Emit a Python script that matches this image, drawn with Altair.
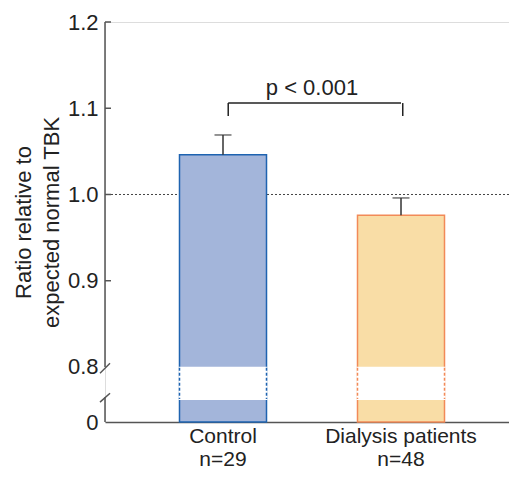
import altair as alt
import pandas as pd

# ---- data ----
groups = ["Control", "Dialysis patients"]
n_text = ["n=29", "n=48"]
means = [1.046, 0.976]
upper = [1.069, 0.996]
fills = ["#a3b5da", "#f9dda6"]
strokes = ["#1e63b0", "#f28a58"]

y_tick_values = [0.9, 1.0, 1.1, 1.2]
ref_value = 1.0
p_text = "p < 0.001"

# broken-axis geometry (in axis units; real 0 drawn at Y_ZERO)
Y_ZERO = 0.7362
Y_MAX = 1.2
BREAK_TOP = 0.799
BREAK_BOTTOM = 0.763
AXIS_LOWER_TOP = 0.765
bracket_y = 1.106
bracket_leg = 1.091
p_y = 1.123

# layout
W, H = 404, 400
PAD_INNER, PAD_OUTER, ALIGN = 0.5112, 0.3904, 0.536
STEP = W / (len(groups) - PAD_INNER + 2 * PAD_OUTER)

FONT = "Liberation Sans"
FS = 22
TXT = "#222222"
AX = "#555555"

df = pd.DataFrame({"group": groups, "n": n_text, "mean": means, "upper": upper})

xscale = alt.Scale(domain=groups, paddingInner=PAD_INNER, paddingOuter=PAD_OUTER, align=ALIGN)
yscale = alt.Scale(domain=[Y_ZERO, Y_MAX], nice=False, zero=False)
fill_scale = alt.Scale(domain=groups, range=fills)
stroke_scale = alt.Scale(domain=groups, range=strokes)

label_map = " : ".join(
    f"datum.value == '{g}' ? ['{g}', '{n}']" for g, n in zip(groups, n_text)
) + " : datum.label"

xaxis = alt.Axis(
    labelAngle=0, domain=True, domainColor=AX, domainWidth=1.5, ticks=False,
    labelExpr=label_map, labelFontSize=21, labelLineHeight=23, labelPadding=3,
    labelColor=TXT, labelFont=FONT, grid=False,
)
yaxis = alt.Axis(
    values=[Y_ZERO, 0.8] + y_tick_values,
    labelExpr="datum.value < 0.75 ? '0' : format(datum.value, '.1f')",
    domain=False, ticks=False, grid=False, labelFontSize=FS, labelColor=TXT,
    labelFont=FONT, labelPadding=7, titleFontSize=FS, titleFontWeight="normal",
    titleColor=TXT, titleFont=FONT, titlePadding=4, titleLineHeight=28,
)

base = alt.Chart(df)

bars = base.mark_bar(strokeWidth=1.5).encode(
    x=alt.X("group:N", scale=xscale, axis=xaxis, title=None, sort=groups),
    y=alt.Y("mean:Q", scale=yscale, axis=yaxis,
            title=["Ratio relative to", "expected normal TBK"]),
    y2=alt.datum(Y_ZERO),
    fill=alt.Fill("group:N", scale=fill_scale, legend=None),
    stroke=alt.Stroke("group:N", scale=stroke_scale, legend=None),
)

white_band = base.mark_bar(fill="white", stroke="white", strokeWidth=2).encode(
    x=alt.X("group:N"),
    y=alt.datum(BREAK_TOP),
    y2=alt.datum(BREAK_BOTTOM),
)

edge_left = base.mark_rule(strokeDash=[3, 2], strokeWidth=1.5).encode(
    x=alt.X("group:N", bandPosition=0),
    y=alt.datum(BREAK_TOP),
    y2=alt.datum(BREAK_BOTTOM),
    stroke=alt.Stroke("group:N", scale=stroke_scale, legend=None),
)
edge_right = base.mark_rule(strokeDash=[3, 2], strokeWidth=1.5).encode(
    x=alt.X("group:N", bandPosition=1),
    y=alt.datum(BREAK_TOP),
    y2=alt.datum(BREAK_BOTTOM),
    stroke=alt.Stroke("group:N", scale=stroke_scale, legend=None),
)

err = base.mark_rule(color="#333333", strokeWidth=1.5).encode(
    x="group:N", y="mean:Q", y2="upper:Q"
)
cap = base.mark_tick(color="#333333", thickness=1.5, size=17, orient="horizontal").encode(
    x="group:N", y="upper:Q"
)

ref = alt.Chart(pd.DataFrame({"v": [ref_value]})).mark_rule(
    strokeDash=[2, 2], color="#444444", strokeWidth=1
).encode(y="v:Q")

bracket_df = pd.DataFrame({"a": [groups[0]], "b": [groups[1]], "y": [bracket_y],
                           "ty": [p_y], "label": [p_text]})
bracket_h = alt.Chart(bracket_df).mark_rule(color="#222222", strokeWidth=1.5).encode(
    x=alt.X("a:N", bandPosition=0.56), x2="b:N", y="y:Q"
)
legs_df = pd.DataFrame({"group": groups, "y": [bracket_leg] * 2, "y2": [bracket_y] * 2})
bracket_leg_l = alt.Chart(legs_df.iloc[[0]]).mark_rule(color="#222222", strokeWidth=1.5).encode(
    x=alt.X("group:N", bandPosition=0.56), y="y:Q", y2="y2:Q"
)
bracket_leg_r = alt.Chart(legs_df.iloc[[1]]).mark_rule(color="#222222", strokeWidth=1.5).encode(
    x=alt.X("group:N", bandPosition=0.52), y="y:Q", y2="y2:Q"
)
p_label = alt.Chart(bracket_df).mark_text(
    dx=STEP / 2, fontSize=FS, font=FONT, color=TXT, baseline="middle"
).encode(x="a:N", y="ty:Q", text="label:N")

# custom broken y axis line, inward ticks and break slashes
axis_df = pd.DataFrame({"y": [0.8, Y_ZERO], "y2": [Y_MAX, AXIS_LOWER_TOP]})
axis_line = alt.Chart(axis_df).mark_rule(color=AX, strokeWidth=1.5).encode(
    x=alt.value(0), y="y:Q", y2="y2:Q"
)
ticks_df = pd.DataFrame({"v": y_tick_values})
ticks = alt.Chart(ticks_df).mark_rule(color=AX, strokeWidth=1.5).encode(
    x=alt.value(0), x2=alt.value(6), y="v:Q"
)
slash_df = pd.DataFrame({"y": [0.7928, 0.7592], "y2": [0.8044, 0.7696]})
slashes = alt.Chart(slash_df).mark_rule(color=AX, strokeWidth=1.5).encode(
    x=alt.value(-5), x2=alt.value(5), y="y:Q", y2="y2:Q"
)

chart = alt.layer(
    ref, bars, white_band, edge_left, edge_right, err, cap,
    bracket_h, bracket_leg_l, bracket_leg_r, p_label, axis_line, ticks, slashes
).properties(
    width=W, height=H,
    autosize=alt.AutoSizeParams(type="none"),
    padding={"left": 97, "top": 14, "right": 0, "bottom": 48},
).configure_view(stroke=None).configure(font=FONT)

chart.save("out.html", embed_options={"renderer": "svg", "actions": False})
